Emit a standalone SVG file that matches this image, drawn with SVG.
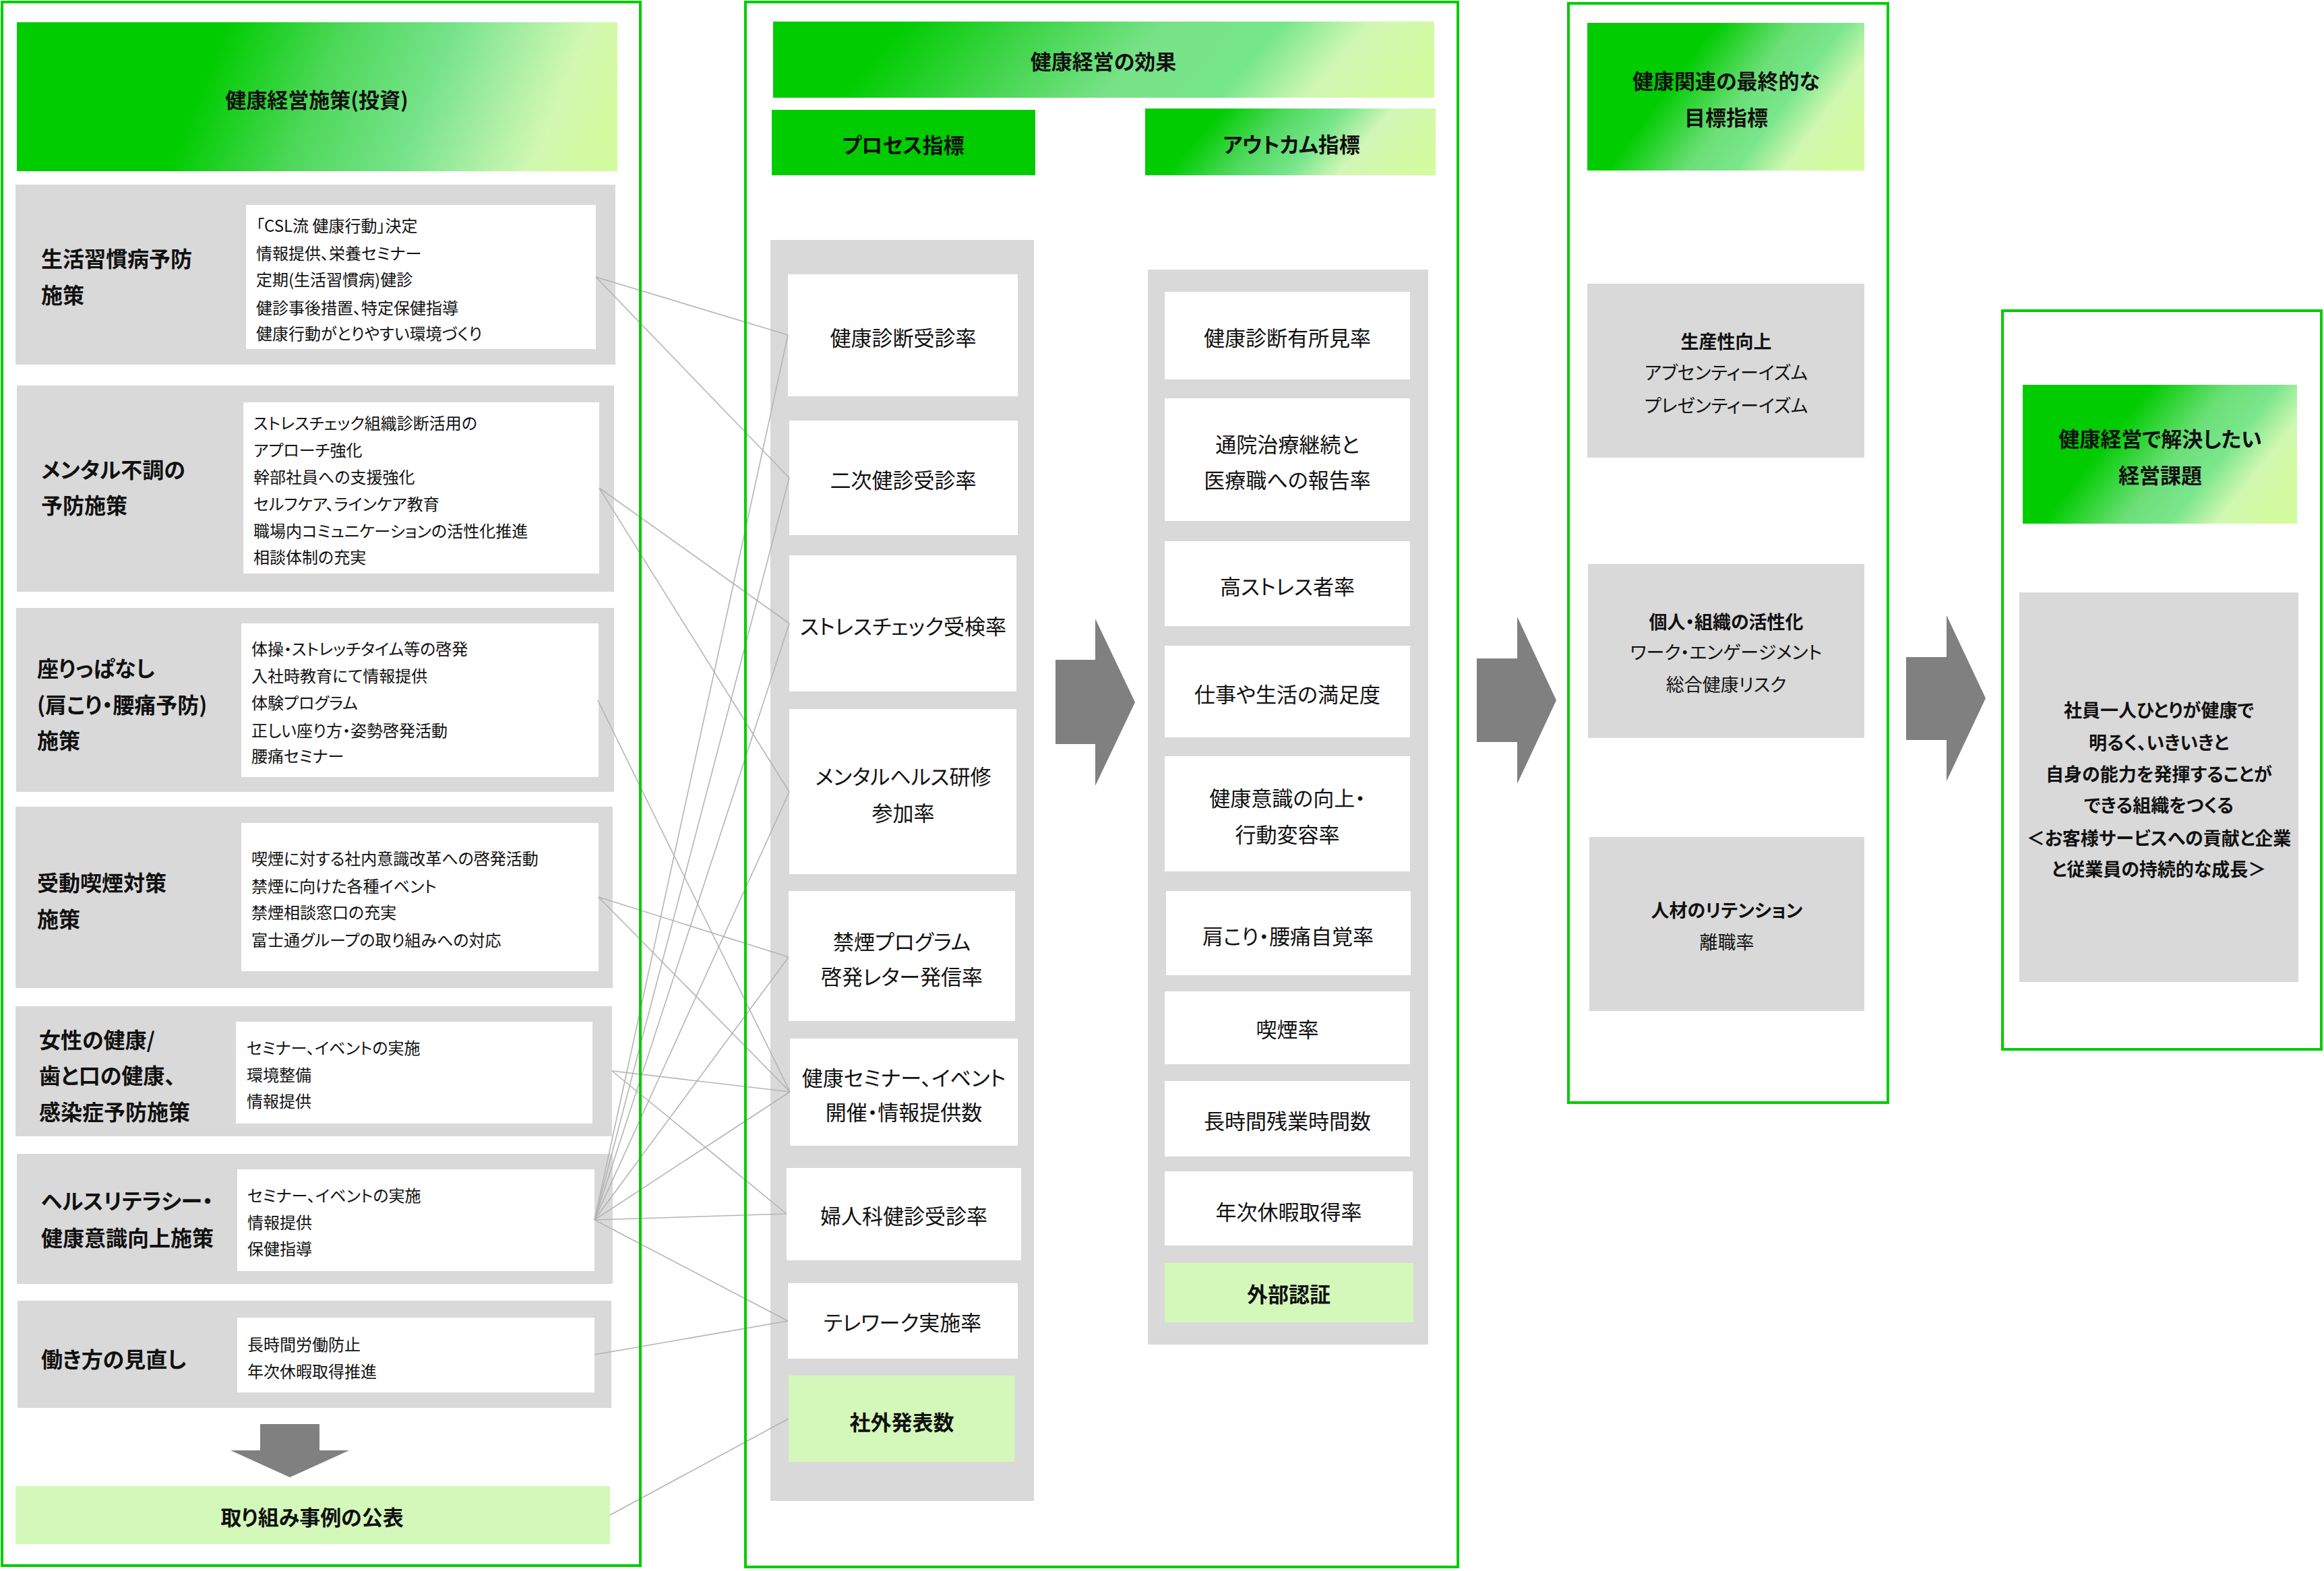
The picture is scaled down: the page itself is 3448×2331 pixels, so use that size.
<svg xmlns="http://www.w3.org/2000/svg" width="3448" height="2331" viewBox="0 0 3448 2331">
<defs>
<style>
text{font-family:"Noto Sans CJK JP","Noto Sans",sans-serif;fill:#111;font-feature-settings:"palt" 1;dominant-baseline:central}
.b{font-weight:bold}
.hd{font-size:31px;font-weight:bold;text-anchor:middle}
.lab{font-size:32px;font-weight:bold}
.it{font-size:24px}
.mt{font-size:31px;text-anchor:middle}
.rt{font-size:27px;text-anchor:middle}
.gray{fill:#d9d9d9}
.white{fill:#ffffff}
.lg{fill:#d4f8b9}
.frame{fill:none;stroke:#00cc00;stroke-width:4}
.arrow{fill:#808080}
.conn line{stroke:#b4b4b4;stroke-width:1.6}
</style>
<linearGradient id="gL" x1="0" y1="0.45" x2="1" y2="0.55">
<stop offset="0" stop-color="#00cc00"/><stop offset="0.3" stop-color="#00cc00"/><stop offset="0.5" stop-color="#4ed85a"/><stop offset="0.68" stop-color="#76e38a"/><stop offset="0.8" stop-color="#a8eea2"/><stop offset="0.9" stop-color="#d2f8b2"/><stop offset="1" stop-color="#d4fb9f"/>
</linearGradient>
<linearGradient id="gM" x1="0" y1="0.45" x2="1" y2="0.55">
<stop offset="0" stop-color="#00cc00"/><stop offset="0.15" stop-color="#00cc00"/><stop offset="0.35" stop-color="#40d54a"/><stop offset="0.55" stop-color="#78e288"/><stop offset="0.72" stop-color="#76e68a"/><stop offset="0.85" stop-color="#cff7b4"/><stop offset="1" stop-color="#d4fb9f"/>
</linearGradient>
<linearGradient id="gO" x1="0" y1="0.4" x2="1" y2="0.6">
<stop offset="0" stop-color="#00cc00"/><stop offset="0.18" stop-color="#00cc00"/><stop offset="0.4" stop-color="#50d960"/><stop offset="0.58" stop-color="#76e58a"/><stop offset="0.75" stop-color="#d2f7b6"/><stop offset="1" stop-color="#d4fb9f"/>
</linearGradient>
<linearGradient id="gR" x1="0" y1="0.3" x2="1" y2="0.7">
<stop offset="0" stop-color="#00cc00"/><stop offset="0.3" stop-color="#00cc00"/><stop offset="0.55" stop-color="#6cdf78"/><stop offset="0.7" stop-color="#7ae68c"/><stop offset="0.85" stop-color="#d0f8b0"/><stop offset="1" stop-color="#d4fb9f"/>
</linearGradient>
</defs>
<rect width="3448" height="2331" fill="#ffffff"/>

<!-- LEFT PANEL -->
<g id="left-header">
<rect x="25" y="33" width="891" height="221" fill="url(#gL)"/>
<text class="hd" x="470" y="146">健康経営施策(投資)</text>
</g>
<g id="m1">
<rect class="gray" x="23" y="274" width="890" height="267"/>
<rect class="white" x="365" y="304" width="519" height="214"/>
<text class="lab" x="61" y="382">生活習慣病予防</text>
<text class="lab" x="61" y="436">施策</text>
<text class="it" x="380" y="333">「CSL流 健康行動」決定</text>
<text class="it" x="380" y="374">情報提供、栄養セミナー</text>
<text class="it" x="380" y="413">定期(生活習慣病)健診</text>
<text class="it" x="380" y="455">健診事後措置、特定保健指導</text>
<text class="it" x="380" y="493">健康行動がとりやすい環境づくり</text>
</g>
<g id="m2">
<rect class="gray" x="25" y="572" width="886" height="306"/>
<rect class="white" x="361" y="597" width="528" height="254"/>
<text class="lab" x="61" y="695">メンタル不調の</text>
<text class="lab" x="61" y="748">予防施策</text>
<text class="it" x="376" y="626">ストレスチェック組織診断活用の</text>
<text class="it" x="376" y="666">アプローチ強化</text>
<text class="it" x="376" y="706">幹部社員への支援強化</text>
<text class="it" x="376" y="746">セルフケア、ラインケア教育</text>
<text class="it" x="376" y="786">職場内コミュニケーションの活性化推進</text>
<text class="it" x="376" y="825">相談体制の充実</text>
</g>
<g id="m3">
<rect class="gray" x="24" y="902" width="887" height="273"/>
<rect class="white" x="358" y="925" width="530" height="228"/>
<text class="lab" x="55" y="990">座りっぱなし</text>
<text class="lab" x="55" y="1044">(肩こり・腰痛予防)</text>
<text class="lab" x="55" y="1097">施策</text>
<text class="it" x="373" y="961">体操・ストレッチタイム等の啓発</text>
<text class="it" x="373" y="1001">入社時教育にて情報提供</text>
<text class="it" x="373" y="1041">体験プログラム</text>
<text class="it" x="373" y="1082">正しい座り方・姿勢啓発活動</text>
<text class="it" x="373" y="1120">腰痛セミナー</text>
</g>
<g id="m4">
<rect class="gray" x="23" y="1197" width="886" height="269"/>
<rect class="white" x="358" y="1221" width="530" height="220"/>
<text class="lab" x="55" y="1308">受動喫煙対策</text>
<text class="lab" x="55" y="1362">施策</text>
<text class="it" x="373" y="1272">喫煙に対する社内意識改革への啓発活動</text>
<text class="it" x="373" y="1313">禁煙に向けた各種イベント</text>
<text class="it" x="373" y="1352">禁煙相談窓口の充実</text>
<text class="it" x="373" y="1393">富士通グループの取り組みへの対応</text>
</g>
<g id="m5">
<rect class="gray" x="23" y="1493" width="885" height="193"/>
<rect class="white" x="350" y="1516" width="529" height="151"/>
<text class="lab" x="58" y="1541">女性の健康/</text>
<text class="lab" x="58" y="1594">歯と口の健康、</text>
<text class="lab" x="58" y="1648">感染症予防施策</text>
<text class="it" x="366" y="1553">セミナー、イベントの実施</text>
<text class="it" x="366" y="1593">環境整備</text>
<text class="it" x="366" y="1632">情報提供</text>
</g>
<g id="m6">
<rect class="gray" x="25" y="1712" width="884" height="193"/>
<rect class="white" x="352" y="1735" width="530" height="151"/>
<text class="lab" x="61" y="1780">ヘルスリテラシー・</text>
<text class="lab" x="61" y="1835">健康意識向上施策</text>
<text class="it" x="367" y="1772">セミナー、イベントの実施</text>
<text class="it" x="367" y="1812">情報提供</text>
<text class="it" x="367" y="1851">保健指導</text>
</g>
<g id="m7">
<rect class="gray" x="26" y="1930" width="881" height="159"/>
<rect class="white" x="352" y="1955" width="530" height="111"/>
<text class="lab" x="61" y="2015">働き方の見直し</text>
<text class="it" x="367" y="1993">長時間労働防止</text>
<text class="it" x="367" y="2033">年次休暇取得推進</text>
</g>
<g id="down-arrow">
<polygon class="arrow" points="386,2113 474,2113 474,2152 518,2152 430,2192 342,2152 386,2152"/>
</g>
<g id="m8">
<rect class="lg" x="23" y="2205" width="882" height="86"/>
<text class="hd" x="463" y="2249">取り組み事例の公表</text>
</g>

<!-- MIDDLE PANEL -->
<g id="mid-header">
<rect x="1147" y="32" width="981" height="113" fill="url(#gM)"/>
<text class="hd" x="1637" y="89">健康経営の効果</text>
</g>
<g id="process-header">
<rect x="1145" y="163" width="391" height="97" fill="#00cc00"/>
<text class="hd" x="1340" y="213">プロセス指標</text>
</g>
<g id="outcome-header">
<rect x="1699" y="161" width="431" height="99" fill="url(#gO)"/>
<text class="hd" x="1916" y="212">アウトカム指標</text>
</g>
<g id="process-column">
<rect class="gray" x="1143" y="356" width="391" height="1871"/>
</g>
<g id="p1"><rect class="white" x="1169" y="407" width="341" height="181"/><text class="mt" x="1340" y="499">健康診断受診率</text></g>
<g id="p2"><rect class="white" x="1171" y="624" width="339" height="170"/><text class="mt" x="1340" y="710">二次健診受診率</text></g>
<g id="p3"><rect class="white" x="1171" y="824" width="337" height="202"/><text class="mt" x="1340" y="927">ストレスチェック受検率</text></g>
<g id="p4"><rect class="white" x="1171" y="1052" width="337" height="245"/><text class="mt" x="1340" y="1150">メンタルヘルス研修</text><text class="mt" x="1340" y="1204">参加率</text></g>
<g id="p5"><rect class="white" x="1170" y="1322" width="336" height="193"/><text class="mt" x="1338" y="1395">禁煙プログラム</text><text class="mt" x="1338" y="1447">啓発レター発信率</text></g>
<g id="p6"><rect class="white" x="1172" y="1541" width="338" height="159"/><text class="mt" x="1341" y="1597">健康セミナー、イベント</text><text class="mt" x="1341" y="1648">開催・情報提供数</text></g>
<g id="p7"><rect class="white" x="1167" y="1733" width="348" height="137"/><text class="mt" x="1341" y="1802">婦人科健診受診率</text></g>
<g id="p8"><rect class="white" x="1169" y="1904" width="341" height="112"/><text class="mt" x="1339" y="1960">テレワーク実施率</text></g>
<g id="p9"><rect class="lg" x="1170" y="2041" width="335" height="128"/><text class="mt b" x="1338" y="2108">社外発表数</text></g>

<g id="outcome-column">
<rect class="gray" x="1703" y="400" width="416" height="1595"/>
</g>
<g id="o1"><rect class="white" x="1728" y="433" width="364" height="130"/><text class="mt" x="1910" y="499">健康診断有所見率</text></g>
<g id="o2"><rect class="white" x="1728" y="591" width="364" height="182"/><text class="mt" x="1910" y="657">通院治療継続と</text><text class="mt" x="1910" y="710">医療職への報告率</text></g>
<g id="o3"><rect class="white" x="1728" y="803" width="364" height="126"/><text class="mt" x="1910" y="868">高ストレス者率</text></g>
<g id="o4"><rect class="white" x="1728" y="958" width="364" height="136"/><text class="mt" x="1910" y="1028">仕事や生活の満足度</text></g>
<g id="o5"><rect class="white" x="1728" y="1122" width="364" height="171"/><text class="mt" x="1910" y="1182">健康意識の向上・</text><text class="mt" x="1910" y="1236">行動変容率</text></g>
<g id="o6"><rect class="white" x="1730" y="1322" width="363" height="125"/><text class="mt" x="1911" y="1387">肩こり・腰痛自覚率</text></g>
<g id="o7"><rect class="white" x="1728" y="1471" width="364" height="108"/><text class="mt" x="1910" y="1525">喫煙率</text></g>
<g id="o8"><rect class="white" x="1728" y="1604" width="364" height="112"/><text class="mt" x="1910" y="1661">長時間残業時間数</text></g>
<g id="o9"><rect class="white" x="1728" y="1738" width="368" height="110"/><text class="mt" x="1912" y="1796">年次休暇取得率</text></g>
<g id="o10"><rect class="lg" x="1728" y="1874" width="369" height="88"/><text class="mt b" x="1912" y="1918">外部認証</text></g>

<g id="arrow-1"><polygon class="arrow" points="1566,979 1625,979 1625,918 1684,1042 1625,1166 1625,1104 1566,1104"/></g>

<!-- THIRD PANEL -->
<g id="goal-header">
<rect x="2355" y="34" width="411" height="219" fill="url(#gR)"/>
<text class="hd" x="2561" y="118">健康関連の最終的な</text>
<text class="hd" x="2561" y="172">目標指標</text>
</g>
<g id="g1">
<rect class="gray" x="2355" y="421" width="411" height="258"/>
<text class="rt b" x="2561" y="505">生産性向上</text>
<text class="rt" x="2561" y="551">アブセンティーイズム</text>
<text class="rt" x="2561" y="600">プレゼンティーイズム</text>
</g>
<g id="g2">
<rect class="gray" x="2356" y="837" width="410" height="258"/>
<text class="rt b" x="2561" y="921">個人・組織の活性化</text>
<text class="rt" x="2561" y="966">ワーク・エンゲージメント</text>
<text class="rt" x="2561" y="1014">総合健康リスク</text>
</g>
<g id="g3">
<rect class="gray" x="2358" y="1242" width="408" height="258"/>
<text class="rt b" x="2562" y="1349">人材のリテンション</text>
<text class="rt" x="2562" y="1396">離職率</text>
</g>
<g id="arrow-2"><polygon class="arrow" points="2191,977 2251,977 2251,915 2309,1039 2251,1163 2251,1101 2191,1101"/></g>

<!-- FOURTH PANEL -->
<g id="issue-header">
<rect x="3001" y="571" width="407" height="206" fill="url(#gR)"/>
<text class="hd" x="3205" y="649">健康経営で解決したい</text>
<text class="hd" x="3205" y="703">経営課題</text>
</g>
<g id="issue">
<rect class="gray" x="2996" y="879" width="414" height="578"/>
<text class="rt b" x="3203" y="1052">社員一人ひとりが健康で</text>
<text class="rt b" x="3203" y="1100">明るく、いきいきと</text>
<text class="rt b" x="3203" y="1147">自身の能力を発揮することが</text>
<text class="rt b" x="3203" y="1193">できる組織をつくる</text>
<text class="rt b" x="3203" y="1242">＜お客様サービスへの貢献と企業</text>
<text class="rt b" x="3203" y="1288">と従業員の持続的な成長＞</text>
</g>
<g id="arrow-3"><polygon class="arrow" points="2828,975 2888,975 2888,913 2946,1036 2888,1159 2888,1098 2828,1098"/></g>

<!-- CONNECTORS -->
<g id="connectors" class="conn">
<line x1="884" y1="411" x2="1169" y2="497"/>
<line x1="884" y1="411" x2="1171" y2="709"/>
<line x1="889" y1="724" x2="1171" y2="925"/>
<line x1="889" y1="724" x2="1171" y2="1175"/>
<line x1="887" y1="1039" x2="1172" y2="1620"/>
<line x1="888" y1="1331" x2="1170" y2="1420"/>
<line x1="888" y1="1331" x2="1172" y2="1620"/>
<line x1="908" y1="1589" x2="1172" y2="1620"/>
<line x1="908" y1="1589" x2="1167" y2="1801"/>
<line x1="882" y1="1810" x2="1169" y2="497"/>
<line x1="882" y1="1810" x2="1171" y2="709"/>
<line x1="882" y1="1810" x2="1171" y2="925"/>
<line x1="882" y1="1810" x2="1171" y2="1175"/>
<line x1="882" y1="1810" x2="1170" y2="1420"/>
<line x1="882" y1="1810" x2="1172" y2="1620"/>
<line x1="882" y1="1810" x2="1167" y2="1801"/>
<line x1="882" y1="1810" x2="1169" y2="1960"/>
<line x1="882" y1="2010" x2="1169" y2="1960"/>
<line x1="905" y1="2248" x2="1170" y2="2105"/>
</g>

<!-- FRAMES -->
<g id="frames">
<rect class="frame" x="3" y="3" width="947" height="2320"/>
<rect class="frame" x="1106" y="3" width="1057" height="2322"/>
<rect class="frame" x="2327" y="5" width="474" height="1631"/>
<rect class="frame" x="2971" y="461" width="473" height="1096"/>
</g>
</svg>
